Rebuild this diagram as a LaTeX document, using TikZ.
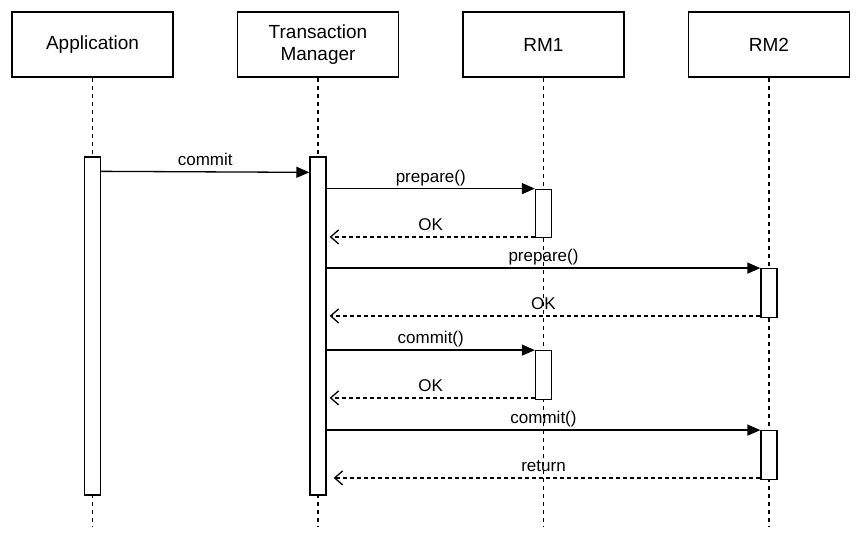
\documentclass[tikz,border=0pt]{standalone}
\usepackage{fontspec}
\setmainfont{Liberation Sans}
\usetikzlibrary{arrows.meta}
\begin{document}
\begin{tikzpicture}[x=1pt,y=-1pt,
  every path/.style={line width=1.3pt},
  header/.style={draw, line width=1.3pt, fill=white, minimum width=161pt, minimum height=65pt, inner sep=0pt, align=center, font=\fontsize{19}{22.5}\selectfont},
  act/.style={draw, line width=1.3pt, fill=white, minimum width=16pt, inner sep=0pt},
  lifeline/.style={line width=1.3pt, dash pattern=on 4pt off 4pt},
  call/.style={line width=1.3pt, -{Triangle[length=13pt,width=11pt]}},
  reply/.style={line width=1.3pt, dash pattern=on 4pt off 3pt, -{Straight Barb[length=8pt,width=14pt,line width=1.3pt]}, shorten >=3pt},
  lbl/.style={anchor=base, yshift=6.5pt, inner sep=0pt, font=\fontsize{17}{20}\selectfont}
]
\useasboundingbox (0,0) rectangle (857,537);
% headers
\node[header] (app) at (92.5,44.5) {Application};
\node[header] (tm)  at (318,44.5) {Transaction\\Manager};
\node[header] (rm1) at (543.5,44.5) {RM1};
\node[header] (rm2) at (769,44.5) {RM2};
% lifeline ends
\coordinate (append) at (92.5,526);
\coordinate (tmend) at (318,526);
\coordinate (rm1end) at (543.5,526);
\coordinate (rm2end) at (769,526);
\draw[lifeline] (app.south) -- (append);
\draw[lifeline] (tm.south) -- (tmend);
\draw[lifeline] (rm1.south) -- (rm1end);
\draw[lifeline] (rm2.south) -- (rm2end);
% activations
\node[act, minimum height=338pt] (appa) at (92.5,326) {};
\node[act, minimum height=338pt] (tma) at (318,326) {};
\node[act, minimum height=48.5pt] (r1a) at (543.5,213.5) {};
\node[act, minimum height=48.5pt] (r2a) at (769,293) {};
\node[act, minimum height=48.5pt] (r1b) at (543.5,375) {};
\node[act, minimum height=48.5pt] (r2b) at (769,455) {};
% messages
\coordinate (c1s) at ([yshift=-15pt]appa.north east);
\coordinate (c1e) at ([yshift=-16pt]tma.north west);
\draw[call] (c1s) -- node[lbl]{commit} (c1e);
\draw[call] (tma.east |- r1a.north west) -- node[lbl]{prepare()} (r1a.north west);
\coordinate (o1) at ([yshift=1.5pt]r1a.south west);
\draw[reply] (o1) -- node[lbl]{OK} (tma.east |- o1);
\draw[call] (tma.east |- r2a.north west) -- node[lbl]{prepare()} (r2a.north west);
\coordinate (o2) at ([yshift=2pt]r2a.south west);
\draw[reply] (o2) -- node[lbl]{OK} (tma.east |- o2);
\draw[call] (tma.east |- r1b.north west) -- node[lbl]{commit()} (r1b.north west);
\coordinate (o3) at ([yshift=2pt]r1b.south west);
\draw[reply] (o3) -- node[lbl]{OK} (tma.east |- o3);
\draw[call] (tma.east |- r2b.north west) -- node[lbl]{commit()} (r2b.north west);
\coordinate (o4) at ([yshift=2pt]r2b.south west);
\draw[reply, shorten >=7pt] (o4) -- node[lbl]{return} (tma.east |- o4);
\end{tikzpicture}
\end{document}
